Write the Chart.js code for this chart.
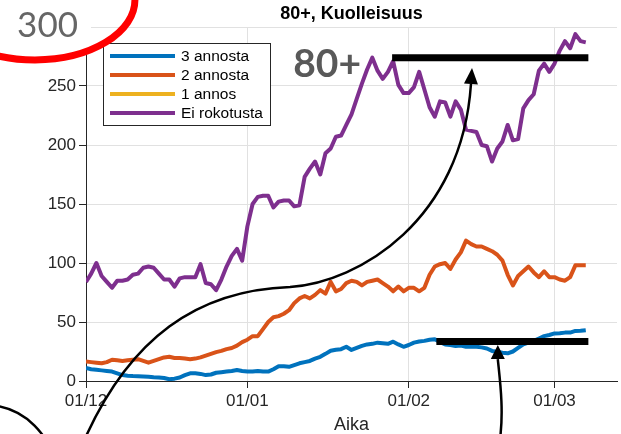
<!DOCTYPE html>
<html>
<head>
<meta charset="utf-8">
<script src="https://cdn.jsdelivr.net/npm/chart.js@4.4.1/dist/chart.umd.min.js"></script>
<style>
  html, body { margin: 0; padding: 0; background: #fff; }
  #wrap { position: relative; width: 621px; height: 434px; }
</style>
</head>
<body>
<div id="wrap"><canvas id="chart" width="621" height="434"></canvas></div>
<script>
// Päivittäiset arvot 1.12. alkaen (päivä 0 = 01/12)
const kolmeAnnosta = [
  11, 10, 9.5, 9, 8.5, 8, 6.5, 5, 4.5, 4.2,
  4, 3.8, 3.5, 3.2, 3, 2.5, 1.5, 2, 3, 5,
  6.5, 6.5, 6, 5, 5.5, 7, 7.5, 8, 8.5, 9.3,
  8.5, 8, 8, 8.5, 8, 8, 10, 12.5, 12.5, 12,
  13.5, 15, 16, 17, 19, 20.5, 23, 25.7, 26.5, 27,
  29, 26.3, 28, 29.7, 31, 31.5, 32.5, 32, 31.5, 33.3,
  31, 29, 30.5, 32.5, 33.5, 34, 35, 35.3, 33, 31,
  30.5, 29.7, 30, 29, 29, 29, 28.5, 27.5, 25.5, 24.8,
  24, 23.5, 25, 28, 31, 32.5, 34, 36, 38, 39,
  40.3, 40.5, 41, 41, 42.4, 42.5, 43
];
const kaksiAnnosta = [
  16.5, 16, 15.5, 15, 16, 18, 17.5, 17, 17.5, 18,
  18.5, 17, 15.5, 17, 18.5, 20, 20.5, 19.5, 19.5, 19,
  18.5, 19, 20, 21.5, 23, 24.5, 25.5, 27, 28, 30,
  33, 35, 38, 38, 44, 50, 54, 55, 57, 60,
  66, 70, 72, 70, 73, 77, 74, 84, 76, 78,
  83, 85, 84, 81, 84, 85, 86, 83, 80, 76,
  80, 76, 79, 79, 76, 79, 90, 97, 99, 100,
  95, 103, 109, 119, 116, 114, 114, 112, 110, 107,
  102, 90, 81, 89, 93, 97, 92, 88, 93, 88,
  88, 86, 85, 88, 98, 98, 98
];
const yksiAnnos = [];
const eiRokotusta = [
  84, 91, 100, 89, 84, 79, 85, 85, 86, 90,
  91, 96, 97, 96, 91, 86, 86, 80, 87, 88,
  88, 88, 99, 83, 82, 77, 86, 97, 106, 112,
  102, 131, 150, 156, 157, 157, 147, 152, 153, 153,
  148, 149, 173, 180, 186, 175, 193, 197, 207, 208,
  217, 226, 239, 252, 264, 274, 263, 256, 262, 271,
  251, 244, 244, 249, 262, 247, 232, 224, 237, 236,
  224, 237, 230, 213, 212, 211, 200, 199, 186, 197,
  203, 217, 204, 205, 231, 238, 243, 263, 269, 262,
  269, 280, 288, 282, 294, 288, 287
];

const tickDays = [0, 31, 62, 90];
const tickLabels = ['01/12', '01/01', '01/02', '01/03'];
const lastDay = 102;

const sarjat = [
  { label: '3 annosta', data: kolmeAnnosta, color: '#0072BD' },
  { label: '2 annosta', data: kaksiAnnosta, color: '#D95319' },
  { label: '1 annos', data: yksiAnnos, color: '#EDB120' },
  { label: 'Ei rokotusta', data: eiRokotusta, color: '#7E2F8E' }
];

// Merkinnät kuvan päällä (akselien yksiköissä: päivä, arvo)
const merkinnat = {
  ympyra: { d: -9.8, v: 322.9, rd: 19.2, rv: 50.8 },
  kaari: { d: -19.4, v: -79.7, rd: 13.45, rv: 59.3 },
  otsake80: { d: 39.8, v: 257.6, text: '80+' },
  viivaYlä: { d0: 58.8, d1: 96.5, v: 274 },
  viivaAla: { d0: 67.3, d1: 96.5, v: 33.5 },
  nuoli1: [[-1.15, -58.5], [8.07, 39.0], [21.9, 77.1], [39.2, 79.7],
           [52.6, 83.9], [72.2, 136.4], [73.95, 251.7]],
  nuoli1Karki: [74.15, 265.3],
  nuoli2: [[79.5, -50.0], [80.3, -24.6], [79.5, 0.8], [79.1, 18.6]],
  nuoli2Karki: [79.1, 30.5]
};

const FONT = '"Liberation Sans", Arial, sans-serif';
const AXIS = '#262626';
const GRID = '#e1e1e1';

function drawArrowHead(ctx, bx, by, tx, ty) {
  const ang = Math.atan2(ty - by, tx - bx);
  const w = 7;
  ctx.beginPath();
  ctx.moveTo(tx, ty);
  ctx.lineTo(bx + Math.cos(ang + Math.PI / 2) * w, by + Math.sin(ang + Math.PI / 2) * w);
  ctx.lineTo(bx + Math.cos(ang - Math.PI / 2) * w, by + Math.sin(ang - Math.PI / 2) * w);
  ctx.closePath();
  ctx.fill();
}

const merkintaPlugin = {
  id: 'merkinnat',
  afterDatasetsDraw(chart) {
    // selite kuva-alueen vasempaan yläkulmaan
    const ctx = chart.ctx;
    const a = chart.chartArea;
    const bx = a.left + 17, by = a.top + 16, bw = 167, bh = 82;
    ctx.save();
    ctx.fillStyle = '#fff';
    ctx.fillRect(bx, by, bw, bh);
    ctx.strokeStyle = AXIS;
    ctx.lineWidth = 1;
    ctx.strokeRect(bx + 0.5, by + 0.5, bw, bh);
    ctx.font = '15.5px ' + FONT;
    ctx.textBaseline = 'middle';
    chart.data.datasets.forEach((ds, i) => {
      const cy = by + 13 + i * 19;
      ctx.strokeStyle = ds.borderColor;
      ctx.lineWidth = 4;
      ctx.beginPath();
      ctx.moveTo(bx + 7, cy);
      ctx.lineTo(bx + 72, cy);
      ctx.stroke();
      ctx.fillStyle = '#000';
      ctx.fillText(ds.label, bx + 78, cy + 1);
    });
    ctx.restore();
  },
  afterDraw(chart) {
    const ctx = chart.ctx;
    const a = chart.chartArea;
    const xs = chart.scales.x, ys = chart.scales.y;
    const X = d => xs.getPixelForValue(d);
    const Y = v => ys.getPixelForValue(v);
    const m = merkinnat;
    ctx.save();

    // valkoinen pohja ylimmän asteikkoarvon alle
    ctx.fillStyle = '#fff';
    ctx.fillRect(0, 0, a.left + 5, Y(279));
    ctx.font = '35px Lato, ' + FONT;
    ctx.fillStyle = '#666';
    ctx.textAlign = 'right';
    ctx.textBaseline = 'middle';
    ctx.fillText('300', a.left - 8, Y(300) - 1);

    // punainen rengas
    ctx.strokeStyle = '#ff0000';
    ctx.lineWidth = 7;
    ctx.beginPath();
    ctx.ellipse(X(m.ympyra.d), Y(m.ympyra.v), X(m.ympyra.rd) - X(0), Y(0) - Y(m.ympyra.rv), 0, 0, Math.PI * 2);
    ctx.stroke();

    // 80+ teksti
    ctx.font = 'bold 39px Lato, ' + FONT;
    ctx.fillStyle = '#595959';
    ctx.textAlign = 'left';
    ctx.textBaseline = 'alphabetic';
    ctx.fillText(m.otsake80.text, X(m.otsake80.d), Y(m.otsake80.v));

    // paksut vaakaviivat
    ctx.strokeStyle = '#000';
    ctx.lineWidth = 7;
    ctx.lineCap = 'butt';
    [m.viivaYlä, m.viivaAla].forEach(l => {
      ctx.beginPath();
      ctx.moveTo(X(l.d0), Y(l.v));
      ctx.lineTo(X(l.d1), Y(l.v));
      ctx.stroke();
    });

    // nuolet
    ctx.lineWidth = 2.5;
    ctx.fillStyle = '#000';
    const p1 = m.nuoli1.map(p => [X(p[0]), Y(p[1])]);
    ctx.beginPath();
    ctx.moveTo(p1[0][0], p1[0][1]);
    ctx.bezierCurveTo(p1[1][0], p1[1][1], p1[2][0], p1[2][1], p1[3][0], p1[3][1]);
    ctx.bezierCurveTo(p1[4][0], p1[4][1], p1[5][0], p1[5][1], p1[6][0], p1[6][1]);
    ctx.stroke();
    drawArrowHead(ctx, p1[6][0], p1[6][1], X(m.nuoli1Karki[0]), Y(m.nuoli1Karki[1]));

    const p2 = m.nuoli2.map(p => [X(p[0]), Y(p[1])]);
    ctx.beginPath();
    ctx.moveTo(p2[0][0], p2[0][1]);
    ctx.bezierCurveTo(p2[1][0], p2[1][1], p2[2][0], p2[2][1], p2[3][0], p2[3][1]);
    ctx.stroke();
    drawArrowHead(ctx, p2[3][0], p2[3][1], X(m.nuoli2Karki[0]), Y(m.nuoli2Karki[1]));

    // kaari vasemmassa alakulmassa
    ctx.beginPath();
    ctx.ellipse(X(m.kaari.d), Y(m.kaari.v), X(m.kaari.rd) - X(0), Y(0) - Y(m.kaari.rv), 0, 0, Math.PI * 2);
    ctx.stroke();

    ctx.restore();
  }
};

const ctx = document.getElementById('chart').getContext('2d');
new Chart(ctx, {
  type: 'line',
  data: {
    datasets: sarjat.map(s => ({
      label: s.label,
      data: s.data.map((v, i) => ({ x: i, y: v })),
      borderColor: s.color,
      backgroundColor: 'transparent',
      borderWidth: 4,
      borderJoinStyle: 'round',
      pointRadius: 0,
      tension: 0
    }))
  },
  options: {
    responsive: false,
    animation: false,
    layout: { padding: { left: 0, right: 4, top: 0, bottom: 0 } },
    plugins: {
      legend: { display: false },
      tooltip: { enabled: false },
      title: {
        display: true,
        fullSize: false,
        text: '80+, Kuolleisuus',
        color: '#000',
        font: { family: FONT, size: 18, weight: 'bold', lineHeight: 1.2 },
        padding: { top: 3, bottom: 2.4 }
      }
    },
    scales: {
      x: {
        type: 'linear',
        min: 0,
        max: lastDay,
        afterBuildTicks: scale => { scale.ticks = tickDays.map(v => ({ value: v })); },
        afterFit: scale => { scale.height = 53; },
        ticks: {
          autoSkip: false,
          maxRotation: 0,
          padding: 3,
          color: AXIS,
          font: { family: FONT, size: 17 },
          callback: value => tickLabels[tickDays.indexOf(value)]
        },
        grid: { color: GRID, tickColor: AXIS, tickLength: 7 },
        border: { color: AXIS, width: 1 },
        title: {
          display: true,
          text: 'Aika',
          color: AXIS,
          font: { family: FONT, size: 18, lineHeight: 1 },
          padding: { top: 0, bottom: 0 }
        }
      },
      y: {
        min: 0,
        max: 300,
        afterFit: scale => { scale.width = 86; },
        ticks: {
          stepSize: 50,
          padding: 3,
          color: AXIS,
          font: { family: FONT, size: 17 },
          callback: value => (value === 300 ? '' : value)
        },
        grid: { color: GRID, tickColor: AXIS, tickLength: 7 },
        border: { color: AXIS, width: 1 }
      }
    }
  },
  plugins: [merkintaPlugin]
});
</script>
</body>
</html>
